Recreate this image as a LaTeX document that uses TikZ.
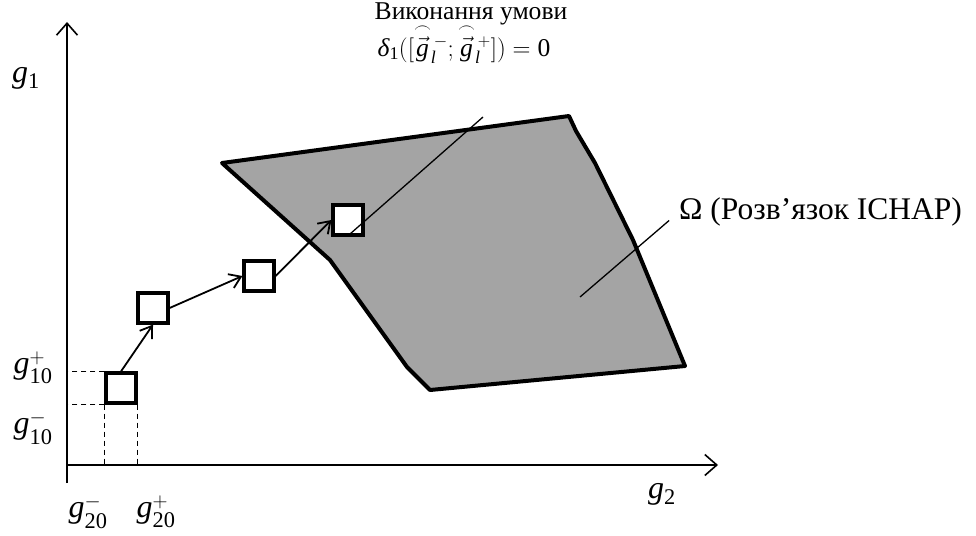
\documentclass[tikz,border=0pt]{standalone}
\usepackage{amsmath}
\usepackage{fontspec}
\setmainfont{Liberation Serif}
\usetikzlibrary{arrows.meta}
\definecolor{omegafill}{HTML}{A4A4A4}

\begin{document}
\begin{tikzpicture}[x=1pt,y=-1pt,font=\fontsize{25.6}{30}\selectfont,
  axis/.style={line width=1.6pt,-{Straight Barb[length=12pt,width=21pt]}},
  stepbox/.style={draw,line width=3.2pt,fill=white,minimum size=30pt,inner sep=0pt},
  move/.style={line width=1.8pt,-{Straight Barb[length=11pt,width=15pt]}},
  guide/.style={line width=1.2pt,dash pattern=on 5pt off 4pt},
  leader/.style={line width=1.3pt},
  glabel/.style={font=\fontsize{32}{36}\selectfont,inner sep=0pt}]
  \useasboundingbox (0,0) rectangle (976,535);
  % solution region
  \filldraw[fill=omegafill,line width=4pt,line join=round]
    (222,163) -- (569,116) -- (576,131) -- (595,163) -- (633,240) -- (685,366)
    -- (430,390) -- (407,367) -- (330,260) -- cycle;
  % axes
  \coordinate (o) at (67,465);
  \coordinate (ytop) at (67,22);
  \coordinate (ybot) at (67,483);
  \coordinate (xend) at (718,465);
  \draw[axis] (ybot) -- (ytop);
  \draw[axis] (o) -- (xend);
  % iteration boxes
  \node[stepbox] (sq1) at (121,388) {};
  \node[stepbox] (sq2) at (153,308) {};
  \node[stepbox] (sq3) at (259,276) {};
  \node[stepbox] (sq4) at (348,220) {};
  \foreach \a/\b in {sq1.north/sq2.south,sq2.east/sq3.west,sq3.east/sq4.west}
    \draw[move] (\a) -- (\b);
  \draw[guide] (sq1.north west) -- (sq1.north west -| o);
  \draw[guide] (sq1.south west) -- (sq1.south west -| o);
  \draw[guide] (sq1.south west) -- (sq1.south west |- o);
  \draw[guide] (sq1.south east) -- (sq1.south east |- o);
  % labels
  \node[glabel] (gone) at (26,78) {$\mathit{g}_{\mathrm{1}}$};
  \node[glabel] (gtwo) at (662,494) {$\mathit{g}_{\mathrm{2}}$};
  \node[glabel] (gtenp) at (33,368) {$\mathit{g}_{\mathrm{10}}^{+}$};
  \node[glabel] (gtenm) at (33,428) {$\mathit{g}_{\mathrm{10}}^{-}$};
  \node[glabel] (gtwm) at (88,512) {$\mathit{g}_{\mathrm{20}}^{-}$};
  \node[glabel] (gtwp) at (156,512) {$\mathit{g}_{\mathrm{20}}^{+}$};
  \node (cond) at (471,14) {Виконання умови};
  \node (condf) at (464,50) {$\text{\itshape δ}_{\mathrm{1}}([\smash[t]{\overset{\frown}{\vec{\mathit{g}}}}_{\mathit{l}}^{\,-};\smash[t]{\overset{\frown}{\vec{\mathit{g}}}}_{\mathit{l}}^{\,+}])=\mathrm{0}$};
  \node[anchor=west,inner sep=0pt,font=\fontsize{31.5}{36}\selectfont] (omega) at (679,212) {Ω (Розв’язок ICHAP)};
  \coordinate (cfoot) at (483,117);
  \coordinate (ofoot) at (580,297);
  \draw[leader] (350,234) -- (cfoot);
  \draw[leader,shorten >=13pt] (ofoot) -- (omega.west);
\end{tikzpicture}
\end{document}
